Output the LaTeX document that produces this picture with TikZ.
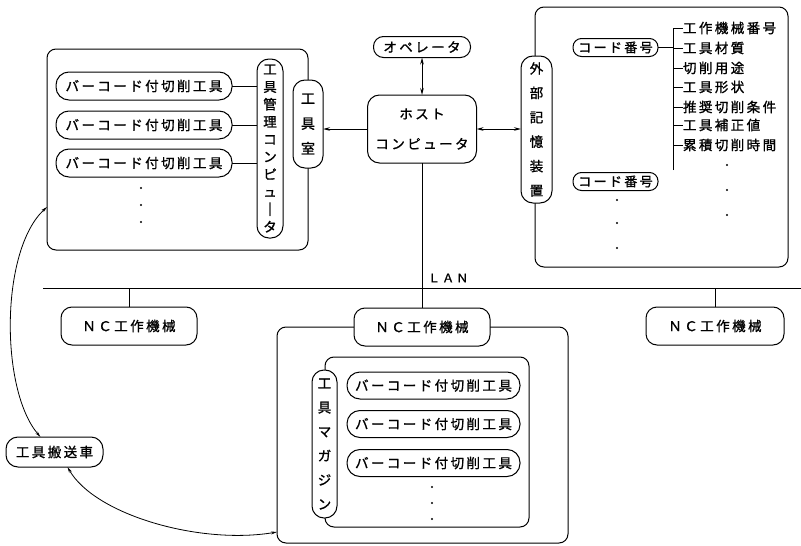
\documentclass[tikz,border=0pt]{standalone}
\usepackage{fontspec}
\newfontfamily\jp[LetterSpace=18,FakeBold=1.2]{Noto Sans CJK JP}
\newfontfamily\jpv[FakeBold=1.2]{Noto Sans CJK JP}
\usetikzlibrary{calc,arrows.meta}
\begin{document}
\begin{tikzpicture}[x=1pt,y=-1pt,
  every node/.style={inner sep=0pt, outer sep=0pt},
  box/.style={draw, line width=1pt, rounded corners=9pt},
  pill/.style={draw, line width=1pt, rounded corners=13pt, fill=white, font=\jp\fontsize{13.5}{16}\selectfont},
  cpill/.style={draw, line width=1pt, rounded corners=8.5pt, fill=white, font=\jp\fontsize{13}{16}\selectfont},
  vpill/.style={draw, line width=1pt, rounded corners=12pt, fill=white, align=center},
  lbl/.style={anchor=west, font=\jp\fontsize{13.5}{16}\selectfont},
  conn/.style={line width=1pt},
  dbl/.style={line width=1pt, {Stealth[length=7pt,width=3.5pt]}-{Stealth[length=7pt,width=3.5pt]}},
  sgl/.style={line width=1pt, -{Stealth[length=7pt,width=3.5pt]}},
  thinarr/.style={line width=0.8pt, {Stealth[length=6pt,width=3pt]}-{Stealth[length=6pt,width=3pt]}},
  dot/.style={circle, fill, inner sep=0pt, minimum size=2.4pt}
]
\useasboundingbox (0,0) rectangle (801,546);

% ---------- top-left: tool room ----------
\node[box, minimum width=261pt, minimum height=201pt] (tlbox) at (177.5,149.5) {};
\node[pill, minimum width=176pt, minimum height=28pt] (tool1) at (144,86) {バーコード付切削工具};
\node[pill, minimum width=176pt, minimum height=28pt] (tool2) at (144,125) {バーコード付切削工具};
\node[pill, minimum width=176pt, minimum height=28pt] (tool3) at (144,163) {バーコード付切削工具};
\node[vpill, minimum width=26pt, minimum height=179pt, font=\jpv\fontsize{13.5}{17.5}\selectfont] (tmc) at (270,148.5) {工\\具\\管\\理\\コ\\ン\\ピ\\ュ\\｜\\タ};
\draw[conn] (tool1.east) -- (tool1.east -| tmc.west);
\draw[conn] (tool2.east) -- (tool2.east -| tmc.west);
\draw[conn] (tool3.east) -- (tool3.east -| tmc.west);
\node[dot] (tld1) at (141,188) {};
\node[dot] (tld2) at (141,205) {};
\node[dot] (tld3) at (141,222) {};
\node[vpill, minimum width=30pt, minimum height=88pt, font=\jpv\fontsize{14}{25}\selectfont] (room) at (308,124) {工\\具\\室};

% ---------- host / operator ----------
\node[box, rounded corners=12pt, fill=white, minimum width=109pt, minimum height=68pt, align=center, font=\jp\fontsize{13.5}{30}\selectfont] (host) at (422,129) {ホスト\\コンピュータ};
\node[cpill, rounded corners=10pt, minimum width=97pt, minimum height=21pt, font=\jp\fontsize{13.5}{16}\selectfont] (oper) at (422,47) {オペレータ};
\draw[dbl] (oper.south) -- (host.north);
\draw[sgl] (host.west) -- (host.west -| room.east);

% ---------- right: external storage ----------
\node[box, minimum width=253pt, minimum height=260pt] (rbox) at (661.5,137) {};
\node[vpill, minimum width=31pt, minimum height=147pt, font=\jpv\fontsize{13.5}{24.4}\selectfont] (ext) at (536.5,129.5) {外\\部\\記\\憶\\装\\置};
\draw[dbl] (host.east) -- (host.east -| ext.west);
\node[cpill, minimum width=85pt, minimum height=18pt] (code1) at (615.5,47.5) {コード番号};
\node[cpill, minimum width=85pt, minimum height=18pt] (code2) at (615.5,181.5) {コード番号};
\coordinate (trtop) at (673,28);
\coordinate (trbot) at (673,170);
\node[lbl] (l1) at (683,28) {工作機械番号};
\node[lbl] (l2) at (683,48) {工具材質};
\node[lbl] (l3) at (683,68) {切削用途};
\node[lbl] (l4) at (683,87) {工具形状};
\node[lbl] (l5) at (683,107) {推奨切削条件};
\node[lbl] (l6) at (683,125) {工具補正値};
\node[lbl] (l7) at (683,145) {累積切削時間};
\draw[conn] (trbot) -- (trtop) -- (l1.west);
\foreach \n in {l2,l3,l4,l5,l6,l7} \draw[conn] (\n.west -| trtop) -- (\n.west);
\draw[conn] (code1.east) -- (code1.east -| trtop);
\node[dot] (rd1) at (727,165) {};
\node[dot] (rd2) at (727,190) {};
\node[dot] (rd3) at (727,215) {};
\node[dot] (cd1) at (617,200) {};
\node[dot] (cd2) at (617,223) {};
\node[dot] (cd3) at (617,248) {};

% ---------- LAN ----------
\coordinate (busL) at (43,288);
\coordinate (busR) at (801,288);
\draw[conn] (busL) -- (busR);
\node[font=\jp\fontsize{12}{14}\selectfont, anchor=west] (lan) at (428,278) {ＬＡＮ};

% ---------- bottom: NC machine with magazine ----------
\node[box, minimum width=291pt, minimum height=216pt] (bbox) at (422.5,435) {};
\node[box, rounded corners=11pt, fill=white, minimum width=136pt, minimum height=38pt, font=\jp\fontsize{13.5}{16}\selectfont] (nc2) at (422,327) {ＮＣ工作機械};
\draw[conn] (host.south) -- (nc2.north);
\node[box, rounded corners=11pt, fill=white, minimum width=136pt, minimum height=38pt, font=\jp\fontsize{13.5}{16}\selectfont] (nc1) at (129,326) {ＮＣ工作機械};
\node[box, rounded corners=11pt, fill=white, minimum width=138pt, minimum height=38pt, font=\jp\fontsize{13.5}{16}\selectfont] (nc3) at (715,326) {ＮＣ工作機械};
\draw[conn] (nc1.north) -- (nc1.north |- busL);
\draw[conn] (nc3.north) -- (nc3.north |- busL);

\node[box, minimum width=204pt, minimum height=170pt] (mag) at (427,442) {};
\node[vpill, minimum width=25pt, minimum height=148pt, font=\jpv\fontsize{13.5}{24.2}\selectfont] (magl) at (324.5,444) {工\\具\\マ\\ガ\\ジ\\ン};
\node[pill, minimum width=173pt, minimum height=27pt] (mt1) at (433.5,385.5) {バーコード付切削工具};
\node[pill, minimum width=173pt, minimum height=27pt] (mt2) at (433.5,424) {バーコード付切削工具};
\node[pill, minimum width=173pt, minimum height=27pt] (mt3) at (433.5,463) {バーコード付切削工具};
\node[dot] (md1) at (432,487) {};
\node[dot] (md2) at (432,503) {};
\node[dot] (md3) at (432,519) {};

% ---------- tool cart ----------
\node[box, rounded corners=12pt, minimum width=97pt, minimum height=30pt, font=\jp\fontsize{13.5}{16}\selectfont] (cart) at (54.5,452) {工具搬送車};
\coordinate (c1a) at ($(tlbox.south west)+(0,-43)$);
\coordinate (c1b) at ($(cart.north)+(-14,0)$);
\coordinate (c2a) at ($(cart.south)+(13,0)$);
\coordinate (c2b) at ($(bbox.south west)+(0,-11)$);
\draw[thinarr] (c1a) .. controls (0,250) and (0,390) .. (c1b);
\draw[thinarr] (c2a) .. controls (95,515) and (200,545) .. (c2b);
\end{tikzpicture}
\end{document}
